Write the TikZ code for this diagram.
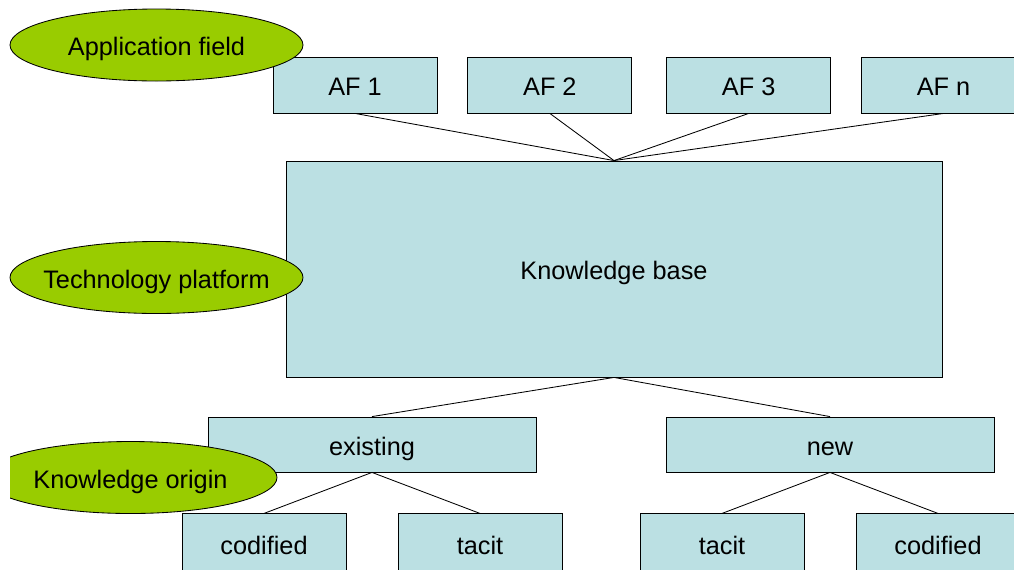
\documentclass[tikz,border=0pt]{standalone}
\usepackage{fontspec}
\setmainfont{Liberation Sans}
\usetikzlibrary{positioning,shapes.geometric}
\definecolor{boxblue}{HTML}{BBE0E3}
\definecolor{tiergreen}{HTML}{99CC00}
\tikzset{
  every picture/.style={
    line width=0.6pt
  },
  kbox/.style={draw, fill=boxblue, inner sep=0pt,
    minimum width=4.1cm, minimum height=1.4cm,
    text height=16pt, text depth=0.5pt,
    font=\fontsize{18}{21}\selectfont},
  tier/.style={ellipse, draw, fill=tiergreen, inner ysep=0pt, inner xsep=-1.5cm,
    minimum width=7.325cm, minimum height=1.8cm,
    text height=16pt, text depth=0.5pt,
    font=\fontsize{18}{21}\selectfont}
}

\begin{document}
\begin{tikzpicture}
  \clip (0,0) rectangle (25.35,-14.225);

  % application fields
  \node[kbox] (af1) at (8.875,-2.125) {AF 1};
  \node[kbox, right=0.75cm of af1] (af2) {AF 2};
  \node[kbox, right=0.85cm of af2] (af3) {AF 3};
  \node[kbox, right=0.75cm of af3] (afn) {AF n};

  % technology platform
  \node[kbox, minimum width=16.4cm, minimum height=5.4cm] (kb) at (15.35,-6.725) {Knowledge base};

  % knowledge origin
  \node[kbox, minimum width=8.2cm, minimum height=1.375cm] (existing) at (9.3,-11.1125) {existing};
  \node[kbox, minimum width=8.2cm, minimum height=1.375cm] (new) at (20.75,-11.1125) {new};
  \node[kbox, minimum height=1.5cm, below=1.025cm of existing, xshift=-2.7cm] (excod) {codified};
  \node[kbox, minimum height=1.5cm, below=1.025cm of existing, xshift=2.7cm] (extac) {tacit};
  \node[kbox, minimum height=1.5cm, below=1.025cm of new, xshift=-2.7cm] (newtac) {tacit};
  \node[kbox, minimum height=1.5cm, below=1.025cm of new, xshift=2.7cm] (newcod) {codified};

  \foreach \af in {af1,af2,af3,afn}
    \draw (\af.south) -- (kb.north);
  \draw (existing.north) -- (kb.south) -- (new.north);
  \draw (excod.north) -- (existing.south) -- (extac.north);
  \draw (newtac.north) -- (new.south) -- (newcod.north);

  % levels
  \node[tier] (appfield) at (3.9125,-1.125) {Application field};
  \node[tier] (techplat) at (3.9125,-6.9375) {Technology platform};
  \begin{scope}
    \clip (0.25,0) rectangle (25.35,-14.225);
    \node[tier] (korigin) at (3.2625,-11.9375) {Knowledge origin};
  \end{scope}
\end{tikzpicture}
\end{document}
